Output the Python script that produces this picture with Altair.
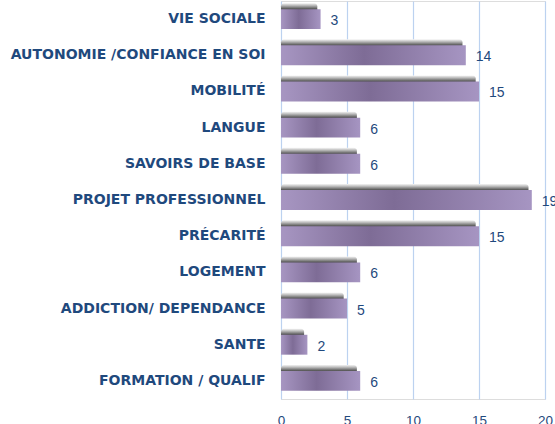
import altair as alt
import pandas as pd

categories = ["VIE SOCIALE", "AUTONOMIE /CONFIANCE EN SOI", "MOBILITÉ", "LANGUE",
              "SAVOIRS DE BASE", "PROJET PROFESSIONNEL", "PRÉCARITÉ", "LOGEMENT",
              "ADDICTION/ DEPENDANCE", "SANTE", "FORMATION / QUALIF"]
values = [3, 14, 15, 6, 6, 19, 15, 6, 5, 2, 6]
x_ticks = [0, 5, 10, 15, 20]

df = pd.DataFrame({"cat": categories, "value": values})

blue = "#1F497D"
y_enc = alt.Y("cat:N", sort=categories, title=None,
              scale=alt.Scale(paddingInner=0.45),
              axis=alt.Axis(domain=False, ticks=False, labelFont="DejaVu Sans",
                            labelFontWeight="bold", labelFontSize=14, labelColor=blue,
                            labelPadding=16, labelLimit=300))
x_axis = alt.Axis(values=x_ticks, domain=False, ticks=False, grid=True, labelFlush=False,
                  gridColor="#BCD2F0", gridWidth=1.2, labelFont="Liberation Sans",
                  labelFontSize=13.5, labelColor=blue, labelPadding=14)
x_scale = alt.Scale(domain=[0, 20], nice=False)

base = alt.Chart(df)

shadow = base.transform_calculate(send="datum.value - 0.25", zero="0").mark_bar(
    yOffset=-6,
    cornerRadiusEnd=3,
    color=alt.Gradient(gradient="linear", x1=0, x2=0, y1=0, y2=1,
                       stops=[alt.GradientStop(offset=0, color="#f4f4f4"),
                              alt.GradientStop(offset=0.12, color="#b8b8b8"),
                              alt.GradientStop(offset=0.3, color="#505050"),
                              alt.GradientStop(offset=1, color="#505050")])
).encode(x=alt.X("zero:Q", title=None, scale=x_scale, axis=x_axis),
         x2=alt.X2("send:Q"), y=y_enc)

bars = base.mark_bar(
    color=alt.Gradient(gradient="linear", x1=0, x2=1, y1=0, y2=0,
                       stops=[alt.GradientStop(offset=0, color="#a796c2"),
                              alt.GradientStop(offset=0.45, color="#7e6c96"),
                              alt.GradientStop(offset=1, color="#a695c2")])
).encode(x=alt.X("value:Q", title=None, scale=x_scale, axis=x_axis), y=y_enc)

text = base.mark_text(align="left", dx=10, dy=2, font="Liberation Sans", fontSize=14,
                      color=blue).encode(x="value:Q", y=alt.Y("cat:N", sort=categories),
                                         text="value:Q")

chart = alt.layer(shadow, bars, text).properties(
    width=264, height=398,
    autosize=alt.AutoSizeParams(type="none"),
    padding={"left": 281, "top": 1, "right": 10, "bottom": 25},
).configure_view(stroke=None).configure(background="white")

chart.save("out.html", embed_options={"renderer": "svg", "actions": False})
